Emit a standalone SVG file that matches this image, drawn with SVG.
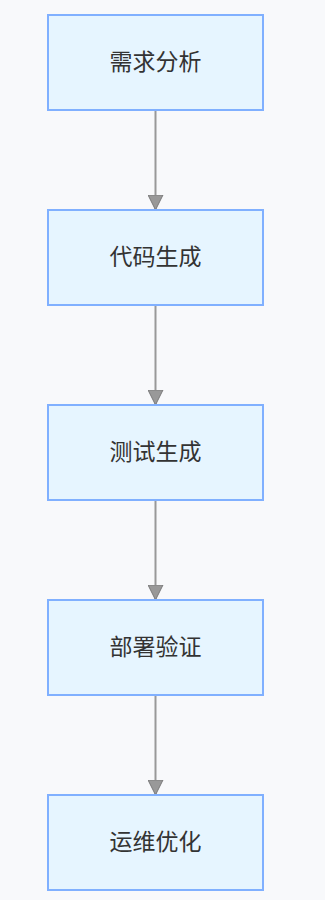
<svg xmlns="http://www.w3.org/2000/svg" width="325" height="900" viewBox="0 0 325 900">
<defs>
<style>
.node rect{fill:#e6f5ff;stroke:#80b0ff;stroke-width:2}
.node text{font-family:"Noto Sans CJK SC","Noto Sans",sans-serif;font-size:23px;fill:#333;text-anchor:middle;dominant-baseline:central}
.edge{stroke:#999;stroke-width:2;fill:none}
</style>
<marker id="arr" markerWidth="15" markerHeight="16" refX="15" refY="8" orient="auto" markerUnits="userSpaceOnUse" viewBox="0 0 16 16">
<path d="M0,0 L16,8 L0,16 Z" fill="#999" stroke="#777" stroke-width="1"/>
</marker>
</defs>
<rect width="325" height="900" fill="#f8f9fb"/>
<g id="edges">
<line class="edge" x1="155.5" y1="110" x2="155.5" y2="209" marker-end="url(#arr)"/>
<line class="edge" x1="155.5" y1="305" x2="155.5" y2="404" marker-end="url(#arr)"/>
<line class="edge" x1="155.5" y1="500" x2="155.5" y2="599" marker-end="url(#arr)"/>
<line class="edge" x1="155.5" y1="695" x2="155.5" y2="794" marker-end="url(#arr)"/>
</g>
<g id="n1" class="node"><rect x="48" y="15" width="215" height="95"/><text x="155.5" y="59.5">需求分析</text></g>
<g id="n2" class="node"><rect x="48" y="210" width="215" height="95"/><text x="155.5" y="254.5">代码生成</text></g>
<g id="n3" class="node"><rect x="48" y="405" width="215" height="95"/><text x="155.5" y="449.5">测试生成</text></g>
<g id="n4" class="node"><rect x="48" y="600" width="215" height="95"/><text x="155.5" y="644.5">部署验证</text></g>
<g id="n5" class="node"><rect x="48" y="795" width="215" height="95"/><text x="155.5" y="839.5">运维优化</text></g>
</svg>
